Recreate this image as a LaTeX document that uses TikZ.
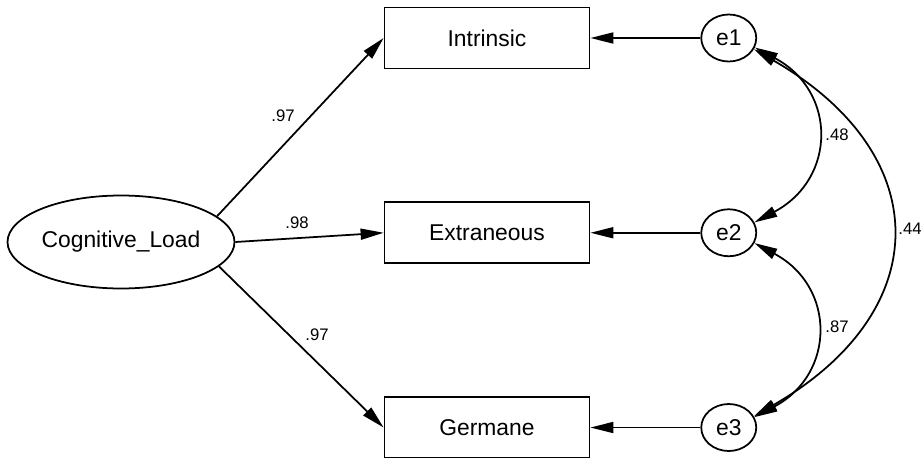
\documentclass[tikz,border=0pt]{standalone}
\usepackage{fontspec}
\setmainfont{Liberation Sans}
\usetikzlibrary{positioning, arrows.meta, shapes.geometric}

\begin{document}
\begin{tikzpicture}[
        line width=1pt,
        >={Triangle[length=0.46cm, width=0.22cm]},
        obs/.style={draw, minimum width=4.1cm, minimum height=1.22cm, font=\fontsize{13}{15}\selectfont},
        err/.style={draw, ellipse, minimum width=1.1cm, minimum height=0.94cm, inner sep=0pt, font=\fontsize{13}{15}\selectfont},
        coef/.style={font=\fontsize{9.5}{11}\selectfont, inner sep=1pt}
    ]
        \useasboundingbox (0,0) rectangle (18.46,9.14);

        \node[obs] (intr) at (9.74,8.38) {Intrinsic};
        \node[obs, below=2.64cm of intr] (extr) {Extraneous};
        \node[obs, below=2.64cm of extr] (germ) {Germane};

        \node[draw, ellipse, inner sep=0pt, minimum width=4.54cm, minimum height=1.86cm, font=\fontsize{13}{15}\selectfont] (load) at (2.42,4.3) {Cognitive\_Load};

        \draw [->] (load.15)--(intr.west);
        \draw [->] (load.east)--(extr.west);
        \draw [->] (load.-14)--(germ.west);

        \node[err, right=2.2cm of intr] (e1) {e1};
        \node[err, right=2.2cm of extr] (e2) {e2};
        \node[err, right=2.2cm of germ] (e3) {e3};

        \draw [->] (e1)--(intr);
        \draw [->] (e2)--(extr);
        \draw [->] (e3)--(germ);

        \draw [<->] (e1.-20) to[out=-28, in=28, looseness=1.36] (e2.22);
        \draw [<->] (e2.-22) to[out=-28, in=28, looseness=1.36] (e3.22);
        \draw [<->] (e1.-24) to[out=-30, in=30, looseness=1.47] (e3.24);

        \node[coef] (c1) at (5.66,6.82) {.97};
        \node[coef] (c2) at (5.94,4.68) {.98};
        \node[coef] (c3) at (6.34,2.44) {.97};
        \node[coef] (c12) at (16.74,6.44) {.48};
        \node[coef] (c23) at (16.74,2.6) {.87};
        \node[coef] (c13) at (18.2,4.56) {.44};
    \end{tikzpicture}
\end{document}
